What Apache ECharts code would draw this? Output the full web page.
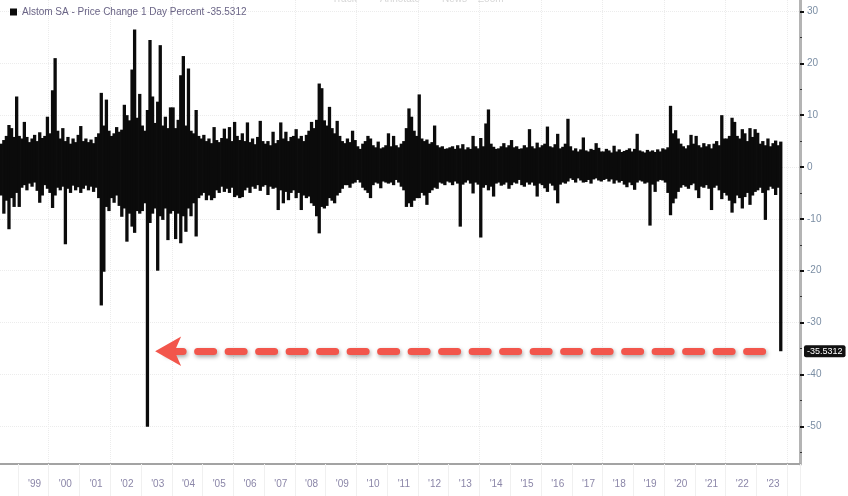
<!DOCTYPE html>
<html><head><meta charset="utf-8">
<script src="https://cdn.jsdelivr.net/npm/echarts@6/dist/echarts.min.js"></script>
<style>html,body{margin:0;padding:0;background:#fff;overflow:hidden}#c{width:848px;height:496px}</style>
</head><body><div id="c"></div>
<script>
// ---- data ----
const seriesName = 'Alstom SA - Price Change 1 Day Percent -35.5312';
const lastValue = -35.5312;
const startYear = 1998, startMonth = 6, monthCount = 312; // Jun 1998 .. May 2024
const yTickValues = [30, 20, 10, 0, -10, -20, -30, -40, -50];
const yMinorTickValues = [25, 15, 5, -5, -15, -25, -35, -45, -55];
const toolbarItems = ['Track', 'Annotate', 'News', 'Zoom'];

// largest daily gain per month (%)
const monthlyHigh = [
  4.5, 5.2, 6.0, 8.1, 7.5, 5.8, 13.6,
  6.0, 5.5, 8.7, 5.8, 4.8, 5.5, 6.2, 5.0, 6.7, 5.6, 6.0, 9.7,
  6.5, 14.8, 21.0, 7.0, 5.5, 7.5, 5.0, 5.8, 4.5, 5.5, 4.8, 6.2,
  7.9, 5.0, 5.5, 4.8, 5.3, 4.6, 5.8, 6.5, 14.3, 8.0, 13.0, 7.0,
  6.0, 6.5, 7.7, 6.8, 7.2, 12.0, 10.0, 9.0, 18.8, 26.5, 9.5, 14.1,
  8.0, 7.0, 11.0, 24.5, 13.6, 8.5, 12.6, 23.5, 8.0, 9.7, 7.5, 11.5,
  11.5, 7.5, 9.1, 17.7, 21.4, 8.0, 19.0, 7.0, 6.5, 11.0, 6.0, 5.5,
  6.2, 5.0, 5.5, 4.6, 7.7, 5.2, 4.8, 5.6, 7.4, 5.5, 7.7, 5.0,
  8.7, 6.0, 5.2, 6.5, 5.0, 8.6, 4.8, 5.5, 4.4, 5.8, 8.9, 5.0,
  4.5, 5.0, 4.2, 6.8, 4.6, 5.2, 8.6, 5.5, 6.8, 5.0, 5.8, 6.0,
  7.3, 5.5, 6.0, 5.0, 6.2, 7.0, 8.7, 7.5, 9.1, 16.1, 15.2, 9.0,
  8.0, 11.6, 7.5, 6.5, 8.9, 6.0, 5.0, 4.6, 5.5, 4.8, 7.0, 5.2,
  4.0, 3.5, 4.5, 5.0, 6.0, 5.5, 4.2, 3.8, 4.9, 3.6, 3.8, 4.2,
  6.5, 4.0, 6.0, 4.2, 3.8, 4.5, 5.0, 7.5, 11.3, 9.7, 7.0, 6.0,
  14.0, 5.5, 5.0, 5.3, 4.5, 4.8, 8.0, 4.2, 3.8, 4.0, 3.5, 3.6,
  3.8, 4.0, 3.5, 4.2, 3.6, 4.4, 3.4, 3.8, 3.5, 6.0, 4.0, 3.6,
  5.6, 4.0, 8.4, 11.1, 4.5, 3.9, 3.5, 3.6, 4.0, 4.6, 3.8, 4.2,
  5.2, 3.8, 4.0, 3.5, 3.6, 4.2, 3.8, 7.3, 4.0, 3.6, 4.7, 3.8,
  4.2, 4.5, 7.8, 4.0, 3.8, 4.4, 6.4, 3.6, 3.9, 4.5, 9.3, 4.0,
  3.2, 3.6, 3.0, 3.4, 5.7, 3.2, 3.0, 3.5, 3.3, 4.6, 3.7, 3.0,
  3.0, 3.5, 3.2, 2.8, 4.1, 3.0, 3.4, 2.9, 3.1, 3.3, 3.6, 3.0,
  3.5, 6.4, 3.2, 3.0, 2.8, 3.3, 3.0, 3.2, 2.9, 3.4, 3.0, 3.6,
  3.4, 3.8, 11.8, 6.5, 7.1, 5.5, 4.5, 4.0, 3.6, 4.2, 6.2, 4.5,
  6.0, 4.2, 3.8, 4.6, 4.0, 4.4, 3.6, 4.5, 5.0, 4.2, 10.0, 5.5,
  5.5, 6.0, 9.5, 8.7, 6.0, 5.5, 7.3, 6.5, 5.0, 7.5, 5.8, 7.3,
  6.6, 4.5, 5.0, 4.2, 5.5, 4.0, 4.6, 5.1, 4.2, 4.9
];
// largest daily loss per month (%)
const monthlyLow = [
  -5.5, -9.0, -6.5, -12.0, -6.0, -7.7, -5.0,
  -7.7, -4.0, -3.5, -4.5, -3.2, -3.8, -3.0, -4.6, -6.9, -5.5, -3.5, -4.2,
  -5.0, -7.9, -5.5, -4.0, -4.5, -3.8, -14.9, -4.2, -5.0, -3.6, -4.5, -3.9,
  -5.0, -4.2, -3.6, -4.5, -3.8, -4.8, -4.0, -6.0, -26.7, -20.2, -7.7, -8.5,
  -6.0, -6.9, -5.5, -7.5, -9.6, -8.0, -14.4, -9.0, -11.5, -12.7, -8.5, -9.0,
  -8.5, -7.0, -50.1, -10.8, -9.0, -8.0, -20.0, -9.5, -10.2, -8.0, -14.1, -9.0,
  -8.5, -13.9, -9.0, -14.7, -9.5, -12.5, -8.0, -9.5, -7.0, -13.4, -6.0, -5.5,
  -5.0, -6.4, -5.5, -6.4, -6.0, -4.5, -5.0, -3.8, -4.8, -4.2, -5.0, -4.0,
  -5.8, -5.5, -6.0, -5.8, -4.5, -4.0, -5.0, -3.8, -4.2, -3.5, -4.6, -3.8,
  -3.5, -5.4, -3.8, -4.2, -4.0, -8.3, -4.5, -7.0, -4.8, -6.4, -5.0, -4.5,
  -6.0, -5.0, -8.3, -5.5, -6.0, -5.7, -7.0, -7.5, -9.5, -12.8, -7.7, -8.0,
  -7.5, -6.0, -6.5, -7.0, -5.5, -5.0, -4.2, -3.5, -3.5, -4.0, -3.2, -3.0,
  -2.5, -3.0, -4.0, -4.5, -5.0, -6.0, -3.5, -3.0, -3.2, -4.1, -2.8, -3.0,
  -3.2, -3.0, -3.5, -2.5, -3.0, -3.8, -4.5, -7.7, -7.0, -7.7, -6.5, -6.0,
  -6.0, -5.0, -5.5, -7.3, -5.0, -4.5, -4.0, -4.2, -3.0, -3.2, -3.5, -2.8,
  -3.0, -3.5, -2.8, -3.2, -11.5, -3.4, -3.0, -2.6, -3.2, -5.1, -3.0, -3.4,
  -13.6, -4.0, -3.5, -4.5, -3.8, -5.7, -3.2, -3.0, -3.6, -3.4, -3.0, -4.2,
  -3.5, -3.0, -3.2, -2.5, -3.5, -3.8, -3.0, -3.4, -3.0, -3.6, -5.7, -3.2,
  -3.5, -4.1, -4.8, -3.2, -3.6, -4.5, -7.0, -3.4, -3.0, -3.2, -2.8, -2.2,
  -2.5, -3.0, -2.2, -2.6, -3.0, -2.9, -2.5, -3.2, -2.4, -2.2, -2.6, -2.8,
  -2.5, -2.3, -2.8, -2.4, -3.2, -2.6, -3.0, -2.7, -3.4, -3.9, -3.0, -3.5,
  -4.4, -3.0, -2.6, -2.8, -3.2, -3.0, -11.3, -3.4, -4.8, -2.8, -2.5, -2.6,
  -3.0, -5.0, -9.3, -7.0, -6.1, -4.8, -4.0, -3.5, -3.8, -4.2, -3.5, -3.2,
  -4.5, -6.0, -3.8, -4.0, -3.5, -4.2, -8.3, -4.0, -3.6, -4.5, -6.2, -5.0,
  -5.5, -6.5, -8.8, -7.0, -5.5, -6.0, -8.0, -5.8, -5.0, -7.3, -5.5, -4.8,
  -4.5, -4.0, -5.0, -10.2, -4.5, -3.8, -4.2, -5.4, -4.0, -35.5312
];

// ---- month categories ----
const months = [];
for (let k = 0; k < monthCount; k++) {
  const m0 = startMonth - 1 + k;
  const y = startYear + Math.floor(m0 / 12);
  const m = (m0 % 12) + 1;
  months.push(y + '-' + String(m).padStart(2, '0'));
}
const yearOf = v => parseInt(v.slice(0, 4), 10);
const isJan = (i, v) => v.slice(5) === '01' && yearOf(v) >= 1999;
const isMidYear = (i, v) => v.slice(5) === '07' && yearOf(v) >= 1999 && yearOf(v) <= 2023;
const isEvenJan = (i, v) => v.slice(5) === '01' && yearOf(v) % 2 === 0;

const arrowFrom = months[60], arrowTo = months[298];

const chart = echarts.init(document.getElementById('c'), null, {renderer: 'canvas'});
const font = 'Liberation Sans, Arial, sans-serif';
chart.setOption({
  animation: false,
  backgroundColor: '#ffffff',
  textStyle: {fontFamily: font},
  legend: {
    data: [{name: seriesName, icon: 'rect'}],
    left: 5, top: 2, itemWidth: 7, itemHeight: 7, itemGap: 4,
    textStyle: {fontSize: 10, color: '#6a6486', fontFamily: font},
    selectedMode: false
  },
  graphic: toolbarItems.map((t, k) => ({
    type: 'text', left: [332, 380, 442, 478][k], top: -6, silent: true,
    style: {text: t, fill: '#d6d6d6', font: '10px ' + font}
  })),
  grid: {left: -2, right: 48, top: 0, bottom: 32, containLabel: false},
  xAxis: [
    {
      type: 'category', data: months, position: 'bottom', boundaryGap: true,
      axisLine: {show: true, onZero: false, lineStyle: {color: '#a3a3a3', width: 2}},
      axisTick: {show: true, interval: isJan, length: 3, lineStyle: {color: '#444', width: 1}},
      axisLabel: {interval: isMidYear, formatter: v => "'" + v.slice(2, 4), color: '#8b86a8', fontSize: 10, margin: 15, fontFamily: font},
      splitLine: {show: true, interval: isEvenJan, lineStyle: {color: '#ececec', type: 'dotted', width: 1}}
    },
    {
      type: 'category', data: months, position: 'bottom', boundaryGap: true,
      axisLine: {show: false, onZero: false},
      axisTick: {show: true, interval: isJan, length: 32, lineStyle: {color: '#f0f0f0', width: 1}},
      axisLabel: {show: false}, splitLine: {show: false}
    }
  ],
  yAxis: [
    {
      type: 'value', position: 'right', min: -57.28, max: 32.21,
      axisLine: {show: true, onZero: false, lineStyle: {color: '#b4b4b4', width: 3}},
      axisTick: {show: true, customValues: yTickValues, length: 4, lineStyle: {color: '#111', width: 2}},
      axisLabel: {customValues: yTickValues, color: '#7b8ea4', fontSize: 10, margin: 7, fontFamily: font},
      splitLine: {show: true, lineStyle: {color: '#ececec', type: 'dotted', width: 1}}
    },
    {
      type: 'value', position: 'right', min: -57.28, max: 32.21,
      axisLine: {show: false, onZero: false},
      axisTick: {show: true, customValues: yMinorTickValues, length: 2, lineStyle: {color: '#333', width: 1}},
      axisLabel: {show: false}, splitLine: {show: false}
    }
  ],
  series: [
    {
      name: seriesName, type: 'bar', data: monthlyHigh, xAxisIndex: 0, yAxisIndex: 0,
      barGap: '-100%', barWidth: 3.3, itemStyle: {color: '#0b0b0b'},
      markLine: {
        silent: true, symbol: 'none', animation: false,
        lineStyle: {color: 'rgba(0,0,0,0)', width: 0},
        data: [{
          yAxis: lastValue,
          label: {show: true, position: 'end', formatter: String(lastValue), color: '#ffffff',
                  backgroundColor: '#111111', padding: [2, 3, 1, 3], borderRadius: 2, fontSize: 9, distance: 4, fontFamily: font}
        }]
      }
    },
    {
      name: 'loss', type: 'bar', data: monthlyLow, xAxisIndex: 0, yAxisIndex: 0,
      barGap: '-100%', barWidth: 3.3, itemStyle: {color: '#0b0b0b'},
      markLine: {
        silent: true, animation: false,
        symbol: ['arrow', 'none'], symbolSize: [22, 26],
        label: {show: false},
        lineStyle: {color: '#f2564c', width: 7, type: [16, 14.5], dashOffset: 18.5, cap: 'round',
                    shadowColor: 'rgba(0,0,0,0.35)', shadowBlur: 4, shadowOffsetY: 2, shadowOffsetX: 1},
        data: [[{coord: [arrowFrom, lastValue]}, {coord: [arrowTo, lastValue]}]]
      }
    }
  ]
});
</script>
</body></html>
